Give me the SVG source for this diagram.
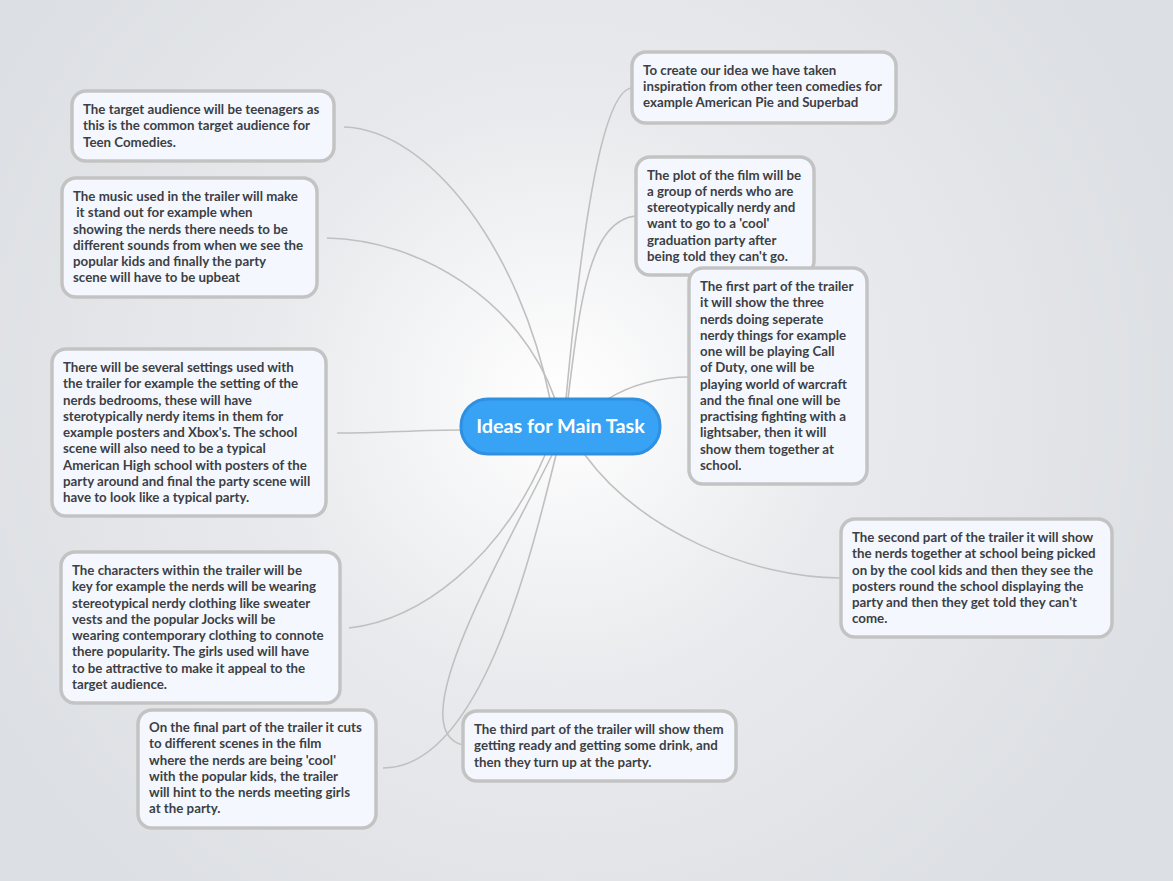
<svg xmlns="http://www.w3.org/2000/svg" width="1173" height="881" viewBox="0 0 1173 881">
<defs>
<radialGradient id="bg" cx="560" cy="400" r="650" gradientUnits="userSpaceOnUse">
<stop offset="0" stop-color="#ffffff"/><stop offset="0.45" stop-color="#e9eaed"/><stop offset="1" stop-color="#dcdfe3"/>
</radialGradient>
<style>
.n rect{fill:#f4f8fe;stroke:#c3c3c3;stroke-width:3.5}
.n text{font-family:Lato,"Noto Sans",sans-serif;font-weight:700;font-size:13.3px;fill:#3d3f44}
.c path{fill:none;stroke:#c0c0c0;stroke-width:1.6}
</style>
</defs>
<rect width="1173" height="881" fill="url(#bg)"/>
<g class="c" id="connectors">
<path d="M566,399 C580,250 600,90 632,88"/>
<path d="M568,399 C580,300 590,220 636,216"/>
<path d="M608,399 C630,385 660,377 689,377"/>
<path d="M585,455 C640,530 750,578 841,578"/>
<path d="M552,455 C500,560 400,730 463,745"/>
<path d="M556,455 C530,560 480,768 383,768"/>
<path d="M545,455 C500,560 420,620 349,628"/>
<path d="M461,430 C420,430 380,433 337,433"/>
<path d="M555,399 C520,300 420,240 327,238"/>
<path d="M550,399 C520,250 430,130 344,127"/>
</g>
<g id="center">
<rect x="461" y="399" width="199" height="55" rx="27" fill="#38a3f5" stroke="#2f8fe0" stroke-width="3"/>
<text x="560.5" y="433" text-anchor="middle" font-family="Lato,'Noto Sans',sans-serif" font-weight="700" font-size="19.8" fill="#fff">Ideas for Main Task</text>
</g>
<g class="n" id="n1"><rect x="632" y="52" width="264" height="71" rx="14"/>
<text x="643" y="75">To create our idea we have taken</text><text x="643" y="91">inspiration from other teen comedies for</text><text x="643" y="107">example American Pie and Superbad</text></g>
<g class="n" id="n2"><rect x="636" y="157" width="178" height="118" rx="14"/>
<text x="647" y="180">The plot of the film will be</text><text x="647" y="196">a group of nerds who are</text><text x="647" y="212">stereotypically nerdy and</text><text x="647" y="228">want to go to a 'cool'</text><text x="647" y="245">graduation party after</text><text x="647" y="261">being told they can't go.</text></g>
<g class="n" id="n3"><rect x="689" y="268" width="178" height="216" rx="14"/>
<text x="700" y="291">The first part of the trailer</text><text x="700" y="307">it will show the three</text><text x="700" y="324">nerds doing seperate</text><text x="700" y="340">nerdy things for example</text><text x="700" y="356">one will be playing Call</text><text x="700" y="372">of Duty, one will be</text><text x="700" y="389">playing world of warcraft</text><text x="700" y="405">and the final one will be</text><text x="700" y="421">practising fighting with a</text><text x="700" y="437">lightsaber, then it will</text><text x="700" y="454">show them together at</text><text x="700" y="470">school.</text></g>
<g class="n" id="n4"><rect x="841" y="519" width="271" height="118" rx="14"/>
<text x="852" y="542">The second part of the trailer it will show</text><text x="852" y="558">the nerds together at school being picked</text><text x="852" y="575">on by the cool kids and then they see the</text><text x="852" y="591">posters round the school displaying the</text><text x="852" y="607">party and then they get told they can't</text><text x="852" y="623">come.</text></g>
<g class="n" id="n5"><rect x="463" y="711" width="273" height="70" rx="14"/>
<text x="474" y="734">The third part of the trailer will show them</text><text x="474" y="750">getting ready and getting some drink, and</text><text x="474" y="767">then they turn up at the party.</text></g>
<g class="n" id="n6"><rect x="138" y="710" width="238" height="118" rx="14"/>
<text x="149" y="732">On the final part of the trailer it cuts</text><text x="149" y="748">to different scenes in the film</text><text x="149" y="765">where the nerds are being 'cool'</text><text x="149" y="781">with the popular kids, the trailer</text><text x="149" y="797">will hint to the nerds meeting girls</text><text x="149" y="813">at the party.</text></g>
<g class="n" id="n7"><rect x="61" y="552" width="279" height="151" rx="14"/>
<text x="72" y="575">The characters within the trailer will be</text><text x="72" y="591">key for example the nerds will be wearing</text><text x="72" y="608">stereotypical nerdy clothing like sweater</text><text x="72" y="624">vests and the popular Jocks will be</text><text x="72" y="640">wearing contemporary clothing to connote</text><text x="72" y="656">there popularity. The girls used will have</text><text x="72" y="673">to be attractive to make it appeal to the</text><text x="72" y="689">target audience.</text></g>
<g class="n" id="n8"><rect x="52" y="349" width="274" height="167" rx="14"/>
<text x="63" y="372">There will be several settings used with</text><text x="63" y="388">the trailer for example the setting of the</text><text x="63" y="405">nerds bedrooms, these will have</text><text x="63" y="421">sterotypically nerdy items in them for</text><text x="63" y="437">example posters and Xbox's. The school</text><text x="63" y="453">scene will also need to be a typical</text><text x="63" y="470">American High school with posters of the</text><text x="63" y="486">party around and final the party scene will</text><text x="63" y="502">have to look like a typical party.</text></g>
<g class="n" id="n9"><rect x="62" y="178" width="255" height="119" rx="14"/>
<text x="73" y="201">The music used in the trailer will make</text><text x="73" y="217" xml:space="preserve"> it stand out for example when</text><text x="73" y="234">showing the nerds there needs to be</text><text x="73" y="250">different sounds from when we see the</text><text x="73" y="266">popular kids and finally the party</text><text x="73" y="282">scene will have to be upbeat</text></g>
<g class="n" id="n10"><rect x="72" y="91" width="262" height="70" rx="14"/>
<text x="83" y="114">The target audience will be teenagers as</text><text x="83" y="130">this is the common target audience for</text><text x="83" y="147">Teen Comedies.</text></g>
</svg>
